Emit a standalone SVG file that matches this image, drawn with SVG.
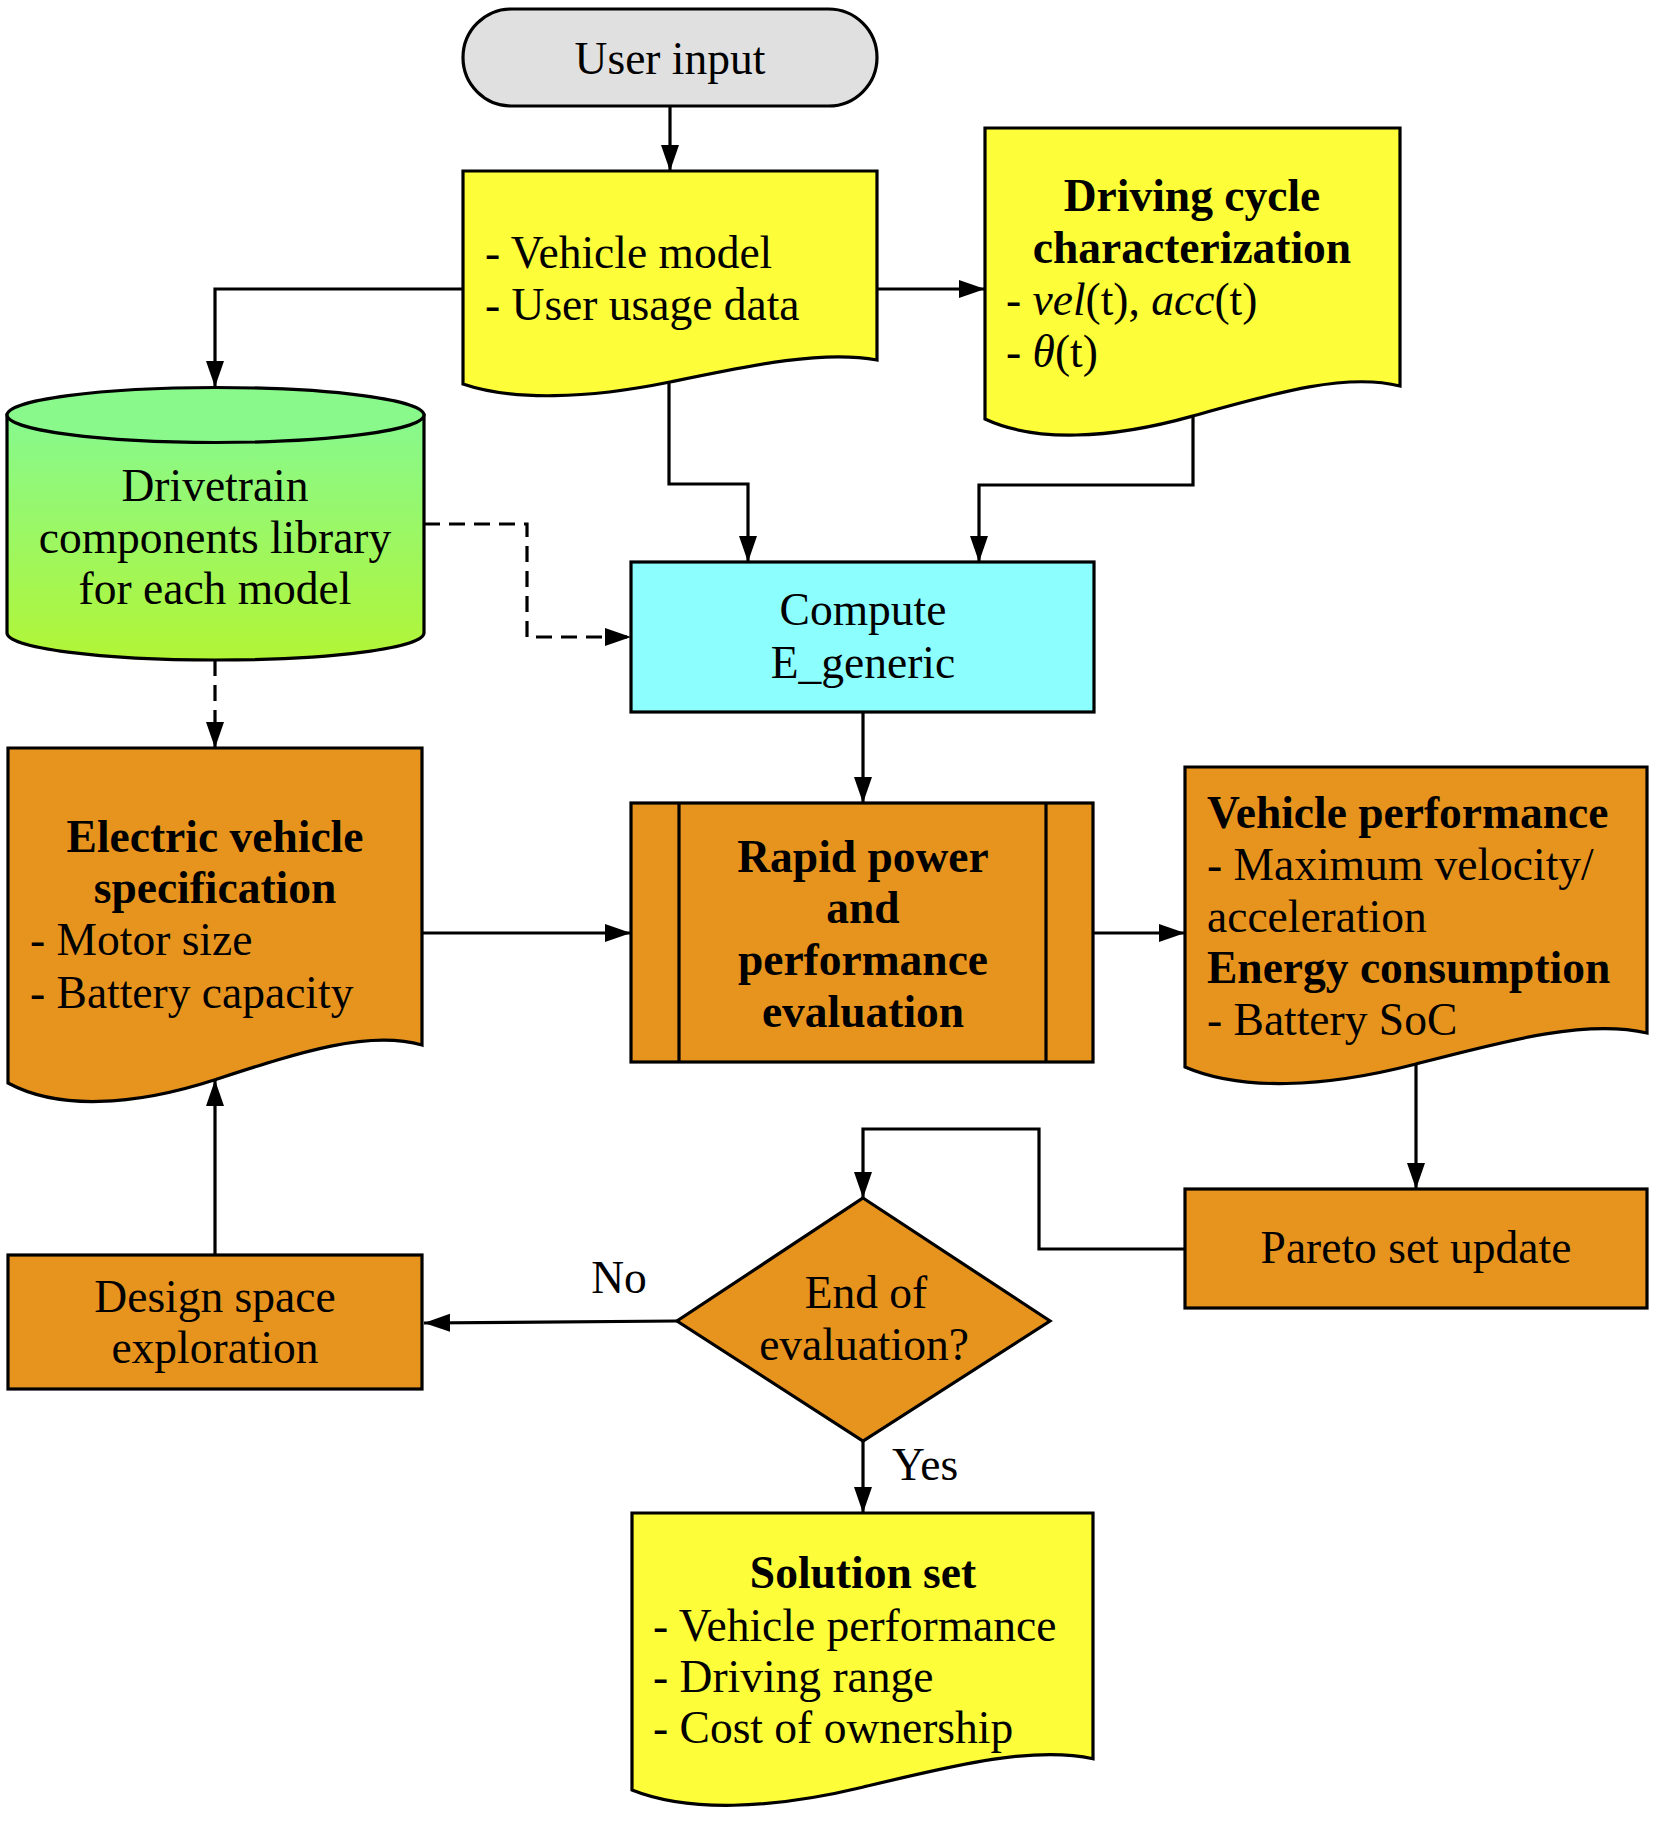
<svg xmlns="http://www.w3.org/2000/svg" width="1658" height="1829" viewBox="0 0 1658 1829">
<style>
  .shape { stroke: #000; stroke-width: 3.2; stroke-linejoin: miter; }
  .orange { fill: #E7941F; }
  .yellow { fill: #FDFD3A; }
  .cyan { fill: #8CFEFE; }
  .gray { fill: #E0E0E0; }
  .conn { fill: none; stroke: #000; stroke-width: 3.2; marker-end: url(#arrow); }
  .dash { stroke-dasharray: 16 9; }
  text { font-family: "Liberation Serif", "Times New Roman", serif; font-size: 45.5px; fill: #000; }
  .b { font-weight: bold; font-size: 45.5px; }
  .c { text-anchor: middle; }
  .i { font-style: italic; }
</style>
<defs>
  <marker id="arrow" markerUnits="userSpaceOnUse" markerWidth="27" markerHeight="19" refX="26" refY="9" orient="auto">
    <path d="M0,0 L26,9 L0,18 Z" fill="#000"/>
  </marker>
  <linearGradient id="green" x1="0" y1="0" x2="0" y2="1">
    <stop offset="0" stop-color="#86F98F"/>
    <stop offset="1" stop-color="#B2F536"/>
  </linearGradient>
</defs>
<rect width="1658" height="1829" fill="#fff"/>

<g id="connectors">
  <path class="conn" d="M670,106 V171"/>
  <path class="conn" d="M463,289 H215 V387"/>
  <path class="conn" d="M877,289 H985"/>
  <path class="conn" d="M669,382 V484 H748 V562"/>
  <path class="conn" d="M1193,416 V485 H979 V562"/>
  <path class="conn dash" d="M424,524 H527 V637 H631"/>
  <path class="conn dash" d="M215,660 V748"/>
  <path class="conn" d="M863,712 V803"/>
  <path class="conn" d="M422,933 H631"/>
  <path class="conn" d="M1093,933 H1185"/>
  <path class="conn" d="M1416,1064 V1189"/>
  <path class="conn" d="M1185,1249 H1039 V1129 H863 V1198"/>
  <path class="conn" d="M677,1321 L424,1323"/>
  <path class="conn" d="M215,1255 V1080"/>
  <path class="conn" d="M863,1441 V1513"/>
  <text x="619" y="1293" class="c">No</text>
  <text x="892" y="1480">Yes</text>
</g>

<g id="user-input">
  <rect class="shape gray" x="463" y="9" width="414" height="97" rx="48.5" ry="48.5"/>
  <text x="670" y="74" class="c">User input</text>
</g>

<g id="vehicle-model">
  <path class="shape yellow" d="M463,171 H877 V360 C823.2,349.9 752.8,364.8 670,382 C587.2,398.9 512.7,401 463,384 Z"/>
  <text x="485" y="268">- Vehicle model</text>
  <text x="485" y="320">- User usage data</text>
</g>

<g id="driving-cycle">
  <path class="shape yellow" d="M985,128 H1400 V386 C1346,372.4 1275.5,392.8 1192.5,416.1 C1109.5,439.4 1034.8,442.3 985,419 Z"/>
  <text x="1192" y="211" class="c b">Driving cycle</text>
  <text x="1192" y="263" class="c b">characterization</text>
  <text x="1006" y="315">- <tspan class="i">vel</tspan>(t), <tspan class="i">acc</tspan>(t)</text>
  <text x="1006" y="367">- <tspan class="i">θ</tspan>(t)</text>
</g>

<g id="drivetrain-library">
  <path class="shape" fill="url(#green)" d="M7,415 V633 A208.5,27 0 0 0 424,633 V415 Z"/>
  <ellipse class="shape" fill="#8AF98C" cx="215.5" cy="415" rx="208.5" ry="27.5"/>
  <text x="215" y="501" class="c">Drivetrain</text>
  <text x="215" y="553" class="c">components library</text>
  <text x="215" y="604" class="c">for each model</text>
</g>

<g id="compute-egeneric">
  <rect class="shape cyan" x="631" y="562" width="463" height="150"/>
  <text x="863" y="625" class="c">Compute</text>
  <text x="863" y="678" class="c">E_generic</text>
</g>

<g id="ev-specification">
  <path class="shape orange" d="M8,748 H422 V1045 C368.2,1029.4 297.8,1052.8 215,1079.7 C132.2,1106.5 57.7,1109.8 8,1083 Z"/>
  <text x="215" y="852" class="c b">Electric vehicle</text>
  <text x="215" y="903" class="c b">specification</text>
  <text x="30" y="955">- Motor size</text>
  <text x="30" y="1008">- Battery capacity</text>
</g>

<g id="rapid-evaluation">
  <rect class="shape orange" x="631" y="803" width="462" height="259"/>
  <path class="shape" fill="none" d="M679,803 V1062 M1046,803 V1062"/>
  <text x="863" y="872" class="c b">Rapid power</text>
  <text x="863" y="923" class="c b">and</text>
  <text x="863" y="975" class="c b">performance</text>
  <text x="863" y="1027" class="c b">evaluation</text>
</g>

<g id="vehicle-performance">
  <path class="shape orange" d="M1185,767 H1647 V1033 C1586.9,1019 1508.4,1040 1416,1064 C1323.6,1088 1240.4,1091 1185,1067 Z"/>
  <text x="1207" y="828" class="b">Vehicle performance</text>
  <text x="1207" y="880">- Maximum velocity/</text>
  <text x="1207" y="932">acceleration</text>
  <text x="1207" y="983" class="b">Energy consumption</text>
  <text x="1207" y="1035">- Battery SoC</text>
</g>

<g id="pareto-update">
  <rect class="shape orange" x="1185" y="1189" width="462" height="119"/>
  <text x="1416" y="1263" class="c">Pareto set update</text>
</g>

<g id="end-of-evaluation">
  <path class="shape orange" d="M863,1198 L1050,1321 L863,1441 L677,1321 Z"/>
  <text x="866" y="1308" class="c">End of</text>
  <text x="864" y="1360" class="c">evaluation?</text>
</g>

<g id="design-space">
  <rect class="shape orange" x="8" y="1255" width="414" height="134"/>
  <text x="215" y="1312" class="c">Design space</text>
  <text x="215" y="1363" class="c">exploration</text>
</g>

<g id="solution-set">
  <path class="shape yellow" d="M632,1513 H1093 V1758.7 C1033.1,1745.7 954.7,1765.1 862.5,1787.2 C770.3,1809.4 687.3,1812.2 632,1790 Z"/>
  <text x="863" y="1588" class="c b">Solution set</text>
  <text x="653" y="1641">- Vehicle performance</text>
  <text x="653" y="1692">- Driving range</text>
  <text x="653" y="1743">- Cost of ownership</text>
</g>
</svg>
